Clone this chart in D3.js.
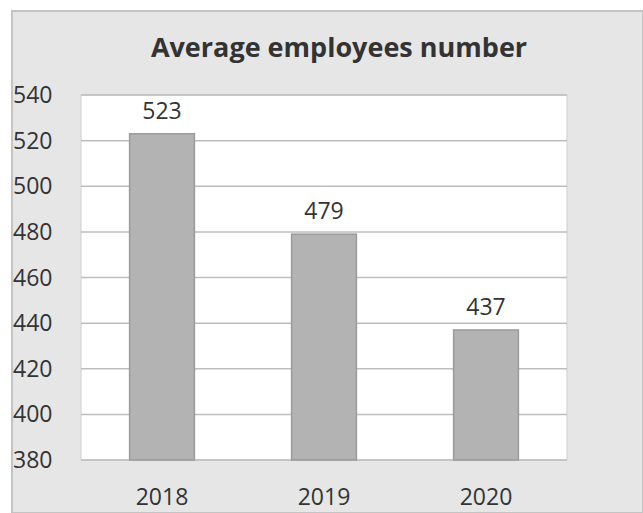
<!DOCTYPE html>
<html>
<head>
<meta charset="utf-8">
<script src="https://cdn.jsdelivr.net/npm/d3@7"></script>
<style>
  body { margin: 0; background: #fff; }
  text { font-family: "Open Sans", "DejaVu Sans", sans-serif; fill: #333; }
</style>
</head>
<body>
<svg id="chart"></svg>
<script>
const years = ["2018", "2019", "2020"];
const employees = [523, 479, 437];
const yTicks = [380, 400, 420, 440, 460, 480, 500, 520, 540];

const width = 643;
const height = 513;
const svg = d3.select("#chart").attr("width", width).attr("height", height);

// outer chart area
svg.append("rect")
  .attr("x", 12).attr("y", 11).attr("width", width - 12).attr("height", height - 11)
  .attr("fill", "#e6e6e6").attr("stroke", "#c4c4c4").attr("stroke-width", 2);

const plot = { left: 81, right: 567, top: 95, bottom: 460 };

const x = d3.scaleBand().domain(years).range([plot.left, plot.right]).paddingInner(0.6).paddingOuter(0.3);
const y = d3.scaleLinear().domain([380, 540]).range([plot.bottom, plot.top]);

// plot area
svg.append("rect")
  .attr("x", plot.left).attr("y", plot.top)
  .attr("width", plot.right - plot.left).attr("height", plot.bottom - plot.top)
  .attr("fill", "#fff").attr("stroke", "#cfcfcf");

// gridlines
svg.append("g")
  .selectAll("line")
  .data(yTicks)
  .join("line")
  .attr("x1", plot.left).attr("x2", plot.right)
  .attr("y1", d => y(d)).attr("y2", d => y(d))
  .attr("stroke", "#bdbdbd").attr("stroke-width", 1.5);

// bars
svg.append("g")
  .selectAll("rect")
  .data(employees)
  .join("rect")
  .attr("x", (d, i) => x(years[i]))
  .attr("y", d => y(d))
  .attr("width", x.bandwidth())
  .attr("height", d => y(380) - y(d))
  .attr("fill", "#b3b3b3")
  .attr("stroke", "#9a9a9a").attr("stroke-width", 1.5);

// value labels
svg.append("g")
  .selectAll("text")
  .data(employees)
  .join("text")
  .attr("x", (d, i) => x(years[i]) + x.bandwidth() / 2)
  .attr("y", d => y(d) - 15)
  .attr("text-anchor", "middle")
  .style("font-size", "23px")
  .text(d => d);

// y axis labels
svg.append("g")
  .selectAll("text")
  .data(yTicks)
  .join("text")
  .attr("x", 13)
  .attr("y", d => y(d) + 8)
  .style("font-size", "23px")
  .text(d => d);

// x axis labels
svg.append("g")
  .selectAll("text")
  .data(years)
  .join("text")
  .attr("x", d => x(d) + x.bandwidth() / 2)
  .attr("y", 505)
  .attr("text-anchor", "middle")
  .style("font-size", "23px")
  .text(d => d);

// title
svg.append("text")
  .attr("x", 339).attr("y", 57)
  .attr("text-anchor", "middle")
  .style("font-size", "27px")
  .style("font-weight", "bold")
  .text("Average employees number");
</script>
</body>
</html>
